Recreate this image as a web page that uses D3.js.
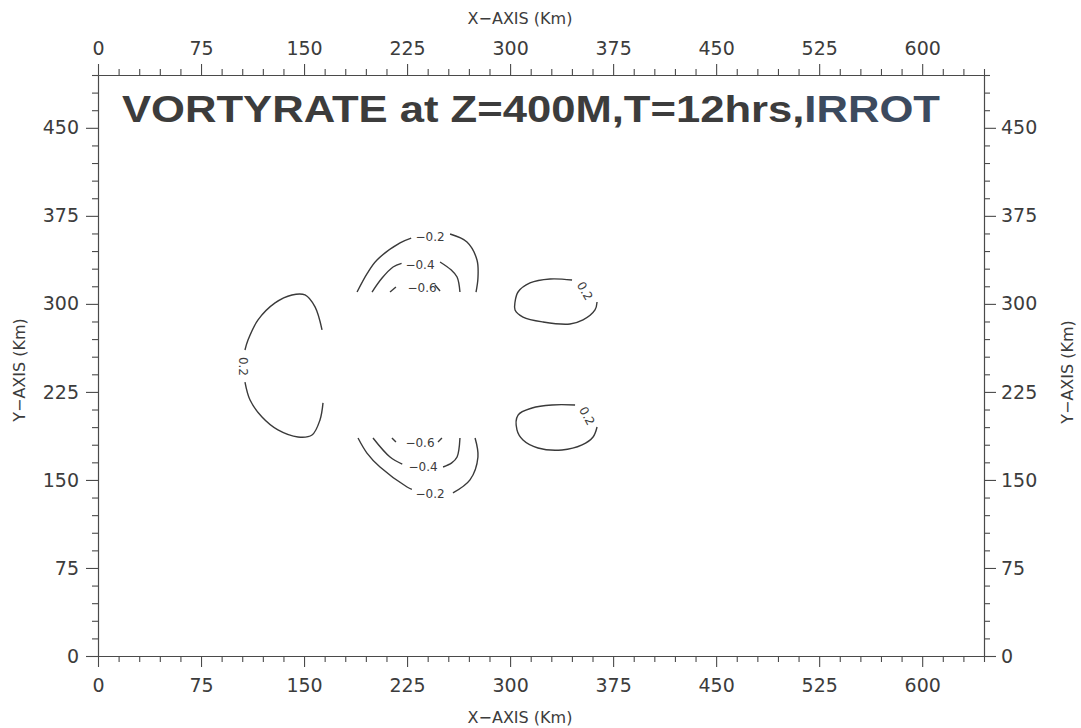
<!DOCTYPE html>
<html>
<head>
<meta charset="utf-8">
<script src="https://cdn.jsdelivr.net/npm/d3@7"></script>
<style>
  body { margin: 0; background: #fff; }
  text { font-family: "DejaVu Sans", sans-serif; fill: #3c3c3c; }
</style>
</head>
<body>
<div id="chart"></div>
<script>
// axis ticks (km)
const xMajor = [0, 75, 150, 225, 300, 375, 450, 525, 600];
const yMajor = [0, 75, 150, 225, 300, 375, 450];
const xMax = 645, yMax = 495;

// contour lines, points in km [x, y]
const pos02Left = [
  [163.1, 277.8], [158.0, 297.4], [150.7, 307.6], [141.2, 307.6], [128.9, 300.8],
  [116.5, 286.3], [109.2, 269.2], [107.0, 260.7]
];
const pos02LeftB = [
  [107.0, 233.4], [110.7, 218.1], [119.4, 203.6], [131.0, 192.6], [145.6, 186.6],
  [155.8, 188.3], [161.6, 201.1], [163.8, 215.6]
];
const neg02UpA = [[188.6, 310.1], [196.0, 326.0], [203.1, 337.4], [219.9, 351.9], [228.0, 356.0]];
const neg02UpB = [[256.3, 359.5], [268.6, 352.7], [275.9, 337.4], [276.6, 322.0], [275.2, 310.1]];
const neg04UpA = [[199.5, 310.1], [206.8, 322.0], [214.8, 331.4], [221.0, 334.5]];
const neg04UpB = [[249.0, 335.7], [257.0, 329.0], [261.4, 322.9], [263.5, 310.1]];
const neg06UpA = [[212.6, 310.1], [216.9, 314.4]];
const neg06UpB = [[245.3, 316.1], [249.0, 311.0]];
const neg02LoA = [[189.3, 185.7], [195.8, 172.9], [205.3, 161.0], [225.0, 144.0], [228.5, 142.0]];
const neg02LoB = [[258.4, 138.9], [270.8, 150.0], [276.6, 169.5], [274.5, 185.7]];
const neg04LoA = [[200.2, 185.7], [212.6, 169.5], [221.5, 163.5]];
const neg04LoB = [[251.2, 161.0], [257.5, 164.5], [261.4, 169.5], [263.5, 185.7]];
const neg06LoA = [[214.0, 185.7], [216.9, 182.3]];
const neg06LoB = [[247.5, 182.3], [250.4, 185.7]];
const pos02UpRight = [
  [363.3, 301.6], [361.8, 294.8], [353.1, 286.3], [343.6, 282.9], [324.0, 284.6],
  [309.4, 288.8], [303.6, 294.8], [303.6, 301.6], [305.8, 310.1], [314.5, 317.8],
  [329.1, 321.2], [345.1, 320.3]
];
const pos02LoRight = [
  [363.3, 195.1], [360.4, 186.6], [352.4, 179.8], [337.8, 175.5], [320.3, 177.2],
  [309.4, 184.0], [305.0, 192.6], [305.8, 205.3], [316.0, 211.3], [330.5, 213.9],
  [347.3, 213.9]
];
const contourLines = [pos02Left, pos02LeftB, neg02UpA, neg02UpB, neg04UpA, neg04UpB,
  neg06UpA, neg06UpB, neg02LoA, neg02LoB, neg04LoA, neg04LoB, neg06LoA, neg06LoB,
  pos02UpRight, pos02LoRight];

// contour labels: [x, y, text, angle]
const contourLabels = [
  [105.5, 246.7, "0.2", 90],
  [241.7, 357.5, "\u22120.2", 0],
  [234.4, 333.5, "\u22120.4", 0],
  [235.9, 313.5, "\u22120.6", 0],
  [241.7, 138.0, "\u22120.2", 0],
  [236.6, 161.5, "\u22120.4", 0],
  [234.4, 181.5, "\u22120.6", 0],
  [354.5, 311.0, "0.2", 60],
  [356.0, 204.5, "0.2", 62]
];

const width = 1081, height = 728;
const plotLeft = 98, plotRight = 984, plotTop = 75, plotBottom = 656;

const svg = d3.select('#chart').append('svg')
  .attr('width', width)
  .attr('height', height);

const x = d3.scaleLinear().domain([0, xMax]).range([plotLeft, plotRight]);
const y = d3.scaleLinear().domain([0, yMax]).range([plotBottom, plotTop]);

const xMinor = d3.range(0, xMax + 1, 15).filter(v => v % 75 !== 0);
const yMinor = d3.range(0, yMax + 1, 15).filter(v => v % 75 !== 0);

function drawAxis(axisFn, scale, majors, minors, transform, size, pad) {
  const g = svg.append('g').attr('transform', transform);
  g.call(axisFn(scale).tickValues(minors).tickSize(6).tickSizeOuter(0).tickFormat(''));
  const gm = svg.append('g').attr('transform', transform);
  gm.call(axisFn(scale).tickValues(majors).tickSize(size).tickSizeOuter(0).tickPadding(pad));
  [g, gm].forEach(a => {
    a.selectAll('path, line').attr('stroke', '#4a4a4a').attr('stroke-width', 1.1);
    a.selectAll('text').style('font-size', '19px').attr('fill', '#3c3c3c')
      .style('font-family', '"DejaVu Sans", sans-serif');
  });
  return gm;
}

drawAxis(d3.axisBottom, x, xMajor, xMinor, `translate(0,${plotBottom})`, 11, 12);
drawAxis(d3.axisTop, x, xMajor, xMinor, `translate(0,${plotTop})`, 11, 9);
drawAxis(d3.axisLeft, y, yMajor, yMinor, `translate(${plotLeft},0)`, 12, 7);
drawAxis(d3.axisRight, y, yMajor, yMinor, `translate(${plotRight},0)`, 12, 5);

// axis titles
svg.append('text').attr('x', 520).attr('y', 24).attr('text-anchor', 'middle')
  .style('font-size', '16px').text('X\u2212AXIS (Km)');
svg.append('text').attr('x', 520).attr('y', 723).attr('text-anchor', 'middle')
  .style('font-size', '16px').text('X\u2212AXIS (Km)');
svg.append('text').attr('transform', 'translate(25,370) rotate(-90)').attr('text-anchor', 'middle')
  .style('font-size', '16px').text('Y\u2212AXIS (Km)');
svg.append('text').attr('transform', 'translate(1073,372) rotate(-90)').attr('text-anchor', 'middle')
  .style('font-size', '16px').text('Y\u2212AXIS (Km)');

// title
const title = svg.append('text').attr('x', 122).attr('y', 122)
  .attr('textLength', 818).attr('lengthAdjust', 'spacingAndGlyphs')
  .style('font-family', '"Liberation Sans", Arial, sans-serif')
  .style('font-size', '37px').style('font-weight', 'bold').attr('fill', '#3a3a3a');
title.append('tspan').text('VORTYRATE at Z=400M,T=12hrs,');
title.append('tspan').attr('fill', '#3c4a5e').text('IRROT');

// contours
const line = d3.line().x(d => x(d[0])).y(d => y(d[1])).curve(d3.curveCatmullRom.alpha(0.5));
svg.append('g').selectAll('path').data(contourLines).enter().append('path')
  .attr('d', line)
  .attr('fill', 'none')
  .attr('stroke', '#3a3a3a')
  .attr('stroke-width', 1.4);

svg.append('g').selectAll('text').data(contourLabels).enter().append('text')
  .attr('transform', d => `translate(${x(d[0])},${y(d[1])}) rotate(${d[3]})`)
  .attr('text-anchor', 'middle')
  .attr('dy', '0.35em')
  .style('font-size', '12px')
  .attr('fill', '#3a3a3a')
  .text(d => d[2]);
</script>
</body>
</html>
